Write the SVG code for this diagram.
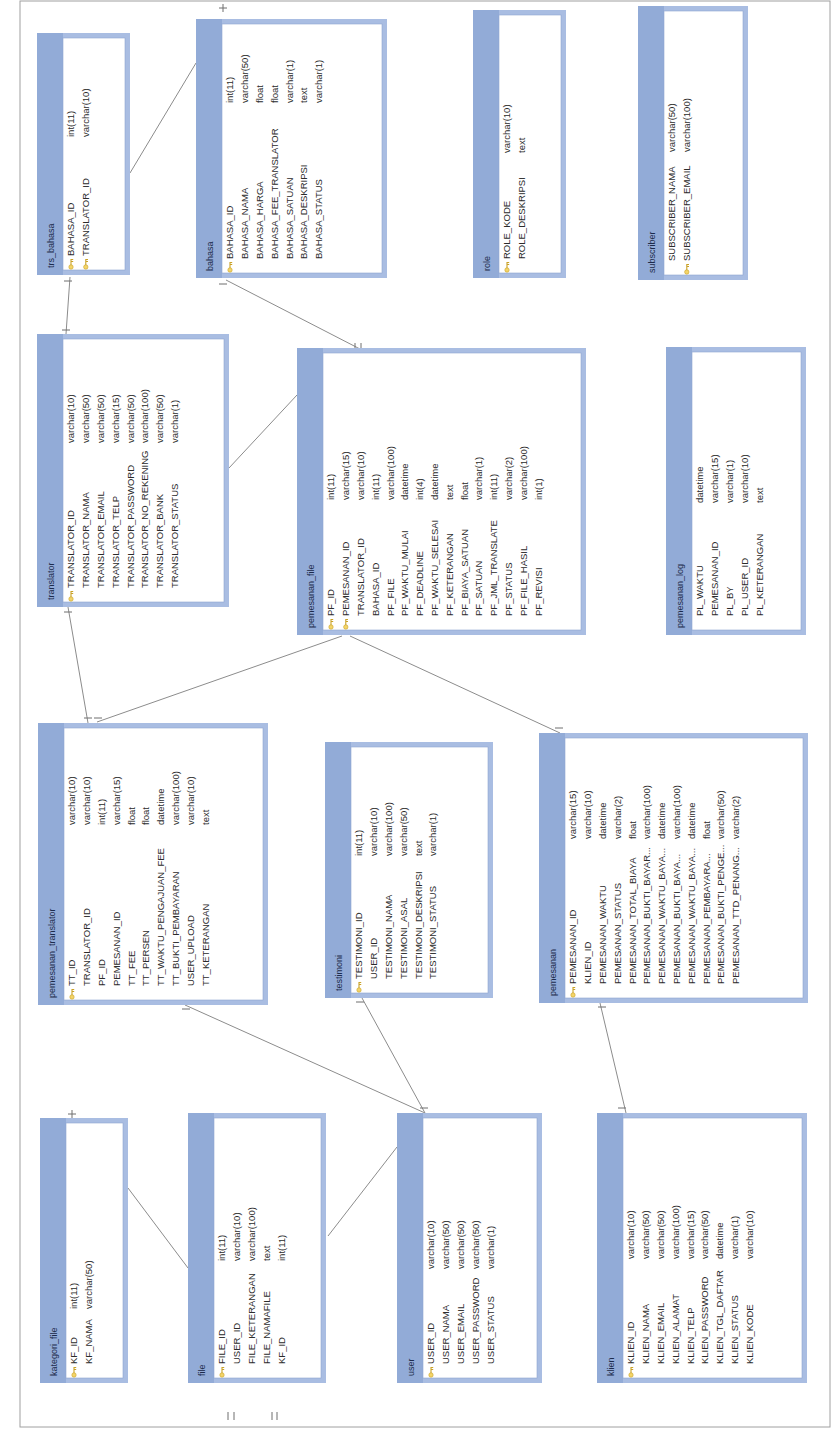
<svg xmlns="http://www.w3.org/2000/svg" xmlns:xlink="http://www.w3.org/1999/xlink" width="832" height="1434" viewBox="0 0 832 1434">
<style>
.fr{fill:#a9bde2}
.hd{fill:#92abd7}
.bd{fill:#ffffff;stroke:#8ea5d0;stroke-width:0.6}
.tt{font-family:"Liberation Sans",Arial,sans-serif;font-size:9px;fill:#1d2b4c}
.f{font-family:"Liberation Sans",Arial,sans-serif;font-size:9.5px;fill:#2b2b2b}
.c{stroke:#8c8c8c;stroke-width:1;fill:none}
.tk{stroke:#6f6f6f;stroke-width:1;fill:none}
</style>
<defs>
<g id="k"><circle cx="2" cy="0" r="2.2" fill="#f3d46a" stroke="#c9a227" stroke-width="0.6"/><path d="M4 0H10M7.5 0V2.2M9.5 0V2.2" stroke="#c9a227" stroke-width="1.1" fill="none"/></g>
</defs>
<rect x="20" y="1" width="810" height="1426" fill="none" stroke="#a0a0a0" stroke-width="1"/>

<g id="connectors">
<line class="c" x1="130" y1="173" x2="196" y2="63"/>
<line class="c" x1="70" y1="277" x2="66" y2="334"/>
<line class="c" x1="226" y1="280" x2="360" y2="349"/>
<line class="c" x1="229" y1="468" x2="297" y2="395"/>
<line class="c" x1="68" y1="607" x2="88" y2="723"/>
<line class="c" x1="342" y1="636" x2="97" y2="722"/>
<line class="c" x1="350" y1="636" x2="560" y2="733"/>
<line class="c" x1="185" y1="1005" x2="425" y2="1113"/>
<line class="c" x1="362" y1="998" x2="425" y2="1113"/>
<line class="c" x1="397" y1="1147" x2="328" y2="1236"/>
<line class="c" x1="128" y1="1188" x2="188" y2="1268"/>
<line class="c" x1="600" y1="1003" x2="626" y2="1113"/>
<path class="tk" d="M219 8h8M223 4v8M219 284h8M64 281h8M62 330h8M64 612h8M84 718h8M94 718h8M355 343v6M361 343v6M68 1114h8M72 1110v8M228 1412v8M234 1412v8M272 1412v8M277 1412v8M420 1108h8M555 728h8M618 1108h8M182 1009h8M356 1002h8M598 1007h8"/>
</g>

<g id="node-trs_bahasa" transform="translate(37 275) rotate(-90)">
<rect class="fr" width="242" height="93"/><rect class="hd" width="242" height="26"/><rect class="bd" x="5" y="26" width="232" height="62"/>
<text class="tt" x="7" y="17">trs_bahasa</text>
<use href="#k" x="6" y="34"/><use href="#k" x="6" y="48.8"/>
<text class="f" x="19" y="37.4">BAHASA_ID</text><text class="f" x="138" y="37.4">int(11)</text>
<text class="f" x="19" y="52.2">TRANSLATOR_ID</text><text class="f" x="138" y="52.2">varchar(10)</text>
</g>

<g id="node-bahasa" transform="translate(196 278) rotate(-90)">
<rect class="fr" width="259" height="191"/><rect class="hd" width="259" height="26"/><rect class="bd" x="5" y="26" width="249" height="160"/>
<text class="tt" x="7" y="17">bahasa</text>
<use href="#k" x="6" y="34"/>
<text class="f" x="19" y="37.4">BAHASA_ID</text><text class="f" x="175" y="37.4">int(11)</text>
<text class="f" x="19" y="52.2">BAHASA_NAMA</text><text class="f" x="175" y="52.2">varchar(50)</text>
<text class="f" x="19" y="67">BAHASA_HARGA</text><text class="f" x="175" y="67">float</text>
<text class="f" x="19" y="81.8">BAHASA_FEE_TRANSLATOR</text><text class="f" x="175" y="81.8">float</text>
<text class="f" x="19" y="96.6">BAHASA_SATUAN</text><text class="f" x="175" y="96.6">varchar(1)</text>
<text class="f" x="19" y="111.4">BAHASA_DESKRIPSI</text><text class="f" x="175" y="111.4">text</text>
<text class="f" x="19" y="126.2">BAHASA_STATUS</text><text class="f" x="175" y="126.2">varchar(1)</text>
</g>

<g id="node-role" transform="translate(473 278) rotate(-90)">
<rect class="fr" width="268" height="93"/><rect class="hd" width="268" height="26"/><rect class="bd" x="5" y="26" width="258" height="62"/>
<text class="tt" x="7" y="17">role</text>
<use href="#k" x="6" y="34"/>
<text class="f" x="19" y="37.4">ROLE_KODE</text><text class="f" x="125" y="37.4">varchar(10)</text>
<text class="f" x="19" y="52.2">ROLE_DESKRIPSI</text><text class="f" x="125" y="52.2">text</text>
</g>

<g id="node-subscriber" transform="translate(638 280) rotate(-90)">
<rect class="fr" width="274" height="110"/><rect class="hd" width="274" height="26"/><rect class="bd" x="5" y="26" width="264" height="79"/>
<text class="tt" x="7" y="17">subscriber</text>
<use href="#k" x="6" y="48.8"/>
<text class="f" x="19" y="37.4">SUBSCRIBER_NAMA</text><text class="f" x="128" y="37.4">varchar(50)</text>
<text class="f" x="19" y="52.2">SUBSCRIBER_EMAIL</text><text class="f" x="128" y="52.2">varchar(100)</text>
</g>

<g id="node-translator" transform="translate(37 607) rotate(-90)">
<rect class="fr" width="273" height="192"/><rect class="hd" width="273" height="26"/><rect class="bd" x="5" y="26" width="263" height="161"/>
<text class="tt" x="7" y="17">translator</text>
<use href="#k" x="6" y="34"/>
<text class="f" x="19" y="37.4">TRANSLATOR_ID</text><text class="f" x="164" y="37.4">varchar(10)</text>
<text class="f" x="19" y="52.2">TRANSLATOR_NAMA</text><text class="f" x="164" y="52.2">varchar(50)</text>
<text class="f" x="19" y="67">TRANSLATOR_EMAIL</text><text class="f" x="164" y="67">varchar(50)</text>
<text class="f" x="19" y="81.8">TRANSLATOR_TELP</text><text class="f" x="164" y="81.8">varchar(15)</text>
<text class="f" x="19" y="96.6">TRANSLATOR_PASSWORD</text><text class="f" x="164" y="96.6">varchar(50)</text>
<text class="f" x="19" y="111.4">TRANSLATOR_NO_REKENING</text><text class="f" x="164" y="111.4">varchar(100)</text>
<text class="f" x="19" y="126.2">TRANSLATOR_BANK</text><text class="f" x="164" y="126.2">varchar(50)</text>
<text class="f" x="19" y="141">TRANSLATOR_STATUS</text><text class="f" x="164" y="141">varchar(1)</text>
</g>

<g id="node-pemesanan_file" transform="translate(297 635) rotate(-90)">
<rect class="fr" width="287" height="289"/><rect class="hd" width="287" height="26"/><rect class="bd" x="5" y="26" width="277" height="258"/>
<text class="tt" x="7" y="17">pemesanan_file</text>
<use href="#k" x="6" y="34"/><use href="#k" x="6" y="48.8"/>
<text class="f" x="19" y="37.4">PF_ID</text><text class="f" x="135" y="37.4">int(11)</text>
<text class="f" x="19" y="52.2">PEMESANAN_ID</text><text class="f" x="135" y="52.2">varchar(15)</text>
<text class="f" x="19" y="67">TRANSLATOR_ID</text><text class="f" x="135" y="67">varchar(10)</text>
<text class="f" x="19" y="81.8">BAHASA_ID</text><text class="f" x="135" y="81.8">int(11)</text>
<text class="f" x="19" y="96.6">PF_FILE</text><text class="f" x="135" y="96.6">varchar(100)</text>
<text class="f" x="19" y="111.4">PF_WAKTU_MULAI</text><text class="f" x="135" y="111.4">datetime</text>
<text class="f" x="19" y="126.2">PF_DEADLINE</text><text class="f" x="135" y="126.2">int(4)</text>
<text class="f" x="19" y="141">PF_WAKTU_SELESAI</text><text class="f" x="135" y="141">datetime</text>
<text class="f" x="19" y="155.8">PF_KETERANGAN</text><text class="f" x="135" y="155.8">text</text>
<text class="f" x="19" y="170.6">PF_BIAYA_SATUAN</text><text class="f" x="135" y="170.6">float</text>
<text class="f" x="19" y="185.4">PF_SATUAN</text><text class="f" x="135" y="185.4">varchar(1)</text>
<text class="f" x="19" y="200.2">PF_JML_TRANSLATE</text><text class="f" x="135" y="200.2">int(11)</text>
<text class="f" x="19" y="215">PF_STATUS</text><text class="f" x="135" y="215">varchar(2)</text>
<text class="f" x="19" y="229.8">PF_FILE_HASIL</text><text class="f" x="135" y="229.8">varchar(100)</text>
<text class="f" x="19" y="244.6">PF_REVISI</text><text class="f" x="135" y="244.6">int(1)</text>
</g>

<g id="node-pemesanan_log" transform="translate(666 635) rotate(-90)">
<rect class="fr" width="288" height="140"/><rect class="hd" width="288" height="26"/><rect class="bd" x="5" y="26" width="278" height="109"/>
<text class="tt" x="7" y="17">pemesanan_log</text>
<text class="f" x="19" y="37.4">PL_WAKTU</text><text class="f" x="132" y="37.4">datetime</text>
<text class="f" x="19" y="52.2">PEMESANAN_ID</text><text class="f" x="132" y="52.2">varchar(15)</text>
<text class="f" x="19" y="67">PL_BY</text><text class="f" x="132" y="67">varchar(1)</text>
<text class="f" x="19" y="81.8">PL_USER_ID</text><text class="f" x="132" y="81.8">varchar(10)</text>
<text class="f" x="19" y="96.6">PL_KETERANGAN</text><text class="f" x="132" y="96.6">text</text>
</g>

<g id="node-pemesanan_translator" transform="translate(38 1005) rotate(-90)">
<rect class="fr" width="282" height="230"/><rect class="hd" width="282" height="26"/><rect class="bd" x="5" y="26" width="272" height="199"/>
<text class="tt" x="7" y="17">pemesanan_translator</text>
<use href="#k" x="6" y="34"/>
<text class="f" x="19" y="37.4">TT_ID</text><text class="f" x="180" y="37.4">varchar(10)</text>
<text class="f" x="19" y="52.2">TRANSLATOR_ID</text><text class="f" x="180" y="52.2">varchar(10)</text>
<text class="f" x="19" y="67">PF_ID</text><text class="f" x="180" y="67">int(11)</text>
<text class="f" x="19" y="81.8">PEMESANAN_ID</text><text class="f" x="180" y="81.8">varchar(15)</text>
<text class="f" x="19" y="96.6">TT_FEE</text><text class="f" x="180" y="96.6">float</text>
<text class="f" x="19" y="111.4">TT_PERSEN</text><text class="f" x="180" y="111.4">float</text>
<text class="f" x="19" y="126.2">TT_WAKTU_PENGAJUAN_FEE</text><text class="f" x="180" y="126.2">datetime</text>
<text class="f" x="19" y="141">TT_BUKTI_PEMBAYARAN</text><text class="f" x="180" y="141">varchar(100)</text>
<text class="f" x="19" y="155.8">USER_UPLOAD</text><text class="f" x="180" y="155.8">varchar(10)</text>
<text class="f" x="19" y="170.6">TT_KETERANGAN</text><text class="f" x="180" y="170.6">text</text>
</g>

<g id="node-testimoni" transform="translate(325 998) rotate(-90)">
<rect class="fr" width="256" height="168"/><rect class="hd" width="256" height="26"/><rect class="bd" x="5" y="26" width="246" height="137"/>
<text class="tt" x="7" y="17">testimoni</text>
<use href="#k" x="6" y="34"/>
<text class="f" x="19" y="37.4">TESTIMONI_ID</text><text class="f" x="142" y="37.4">int(11)</text>
<text class="f" x="19" y="52.2">USER_ID</text><text class="f" x="142" y="52.2">varchar(10)</text>
<text class="f" x="19" y="67">TESTIMONI_NAMA</text><text class="f" x="142" y="67">varchar(100)</text>
<text class="f" x="19" y="81.8">TESTIMONI_ASAL</text><text class="f" x="142" y="81.8">varchar(50)</text>
<text class="f" x="19" y="96.6">TESTIMONI_DESKRIPSI</text><text class="f" x="142" y="96.6">text</text>
<text class="f" x="19" y="111.4">TESTIMONI_STATUS</text><text class="f" x="142" y="111.4">varchar(1)</text>
</g>

<g id="node-pemesanan" transform="translate(539 1003) rotate(-90)">
<rect class="fr" width="270" height="269"/><rect class="hd" width="270" height="26"/><rect class="bd" x="5" y="26" width="260" height="238"/>
<text class="tt" x="7" y="17">pemesanan</text>
<use href="#k" x="6" y="34"/>
<text class="f" x="19" y="37.4">PEMESANAN_ID</text><text class="f" x="164" y="37.4">varchar(15)</text>
<text class="f" x="19" y="52.2">KLIEN_ID</text><text class="f" x="164" y="52.2">varchar(10)</text>
<text class="f" x="19" y="67">PEMESANAN_WAKTU</text><text class="f" x="164" y="67">datetime</text>
<text class="f" x="19" y="81.8">PEMESANAN_STATUS</text><text class="f" x="164" y="81.8">varchar(2)</text>
<text class="f" x="19" y="96.6">PEMESANAN_TOTAL_BIAYA</text><text class="f" x="164" y="96.6">float</text>
<text class="f" x="19" y="111.4">PEMESANAN_BUKTI_BAYAR...</text><text class="f" x="164" y="111.4">varchar(100)</text>
<text class="f" x="19" y="126.2">PEMESANAN_WAKTU_BAYA...</text><text class="f" x="164" y="126.2">datetime</text>
<text class="f" x="19" y="141">PEMESANAN_BUKTI_BAYA...</text><text class="f" x="164" y="141">varchar(100)</text>
<text class="f" x="19" y="155.8">PEMESANAN_WAKTU_BAYA...</text><text class="f" x="164" y="155.8">datetime</text>
<text class="f" x="19" y="170.6">PEMESANAN_PEMBAYARA...</text><text class="f" x="164" y="170.6">float</text>
<text class="f" x="19" y="185.4">PEMESANAN_BUKTI_PENGE...</text><text class="f" x="164" y="185.4">varchar(50)</text>
<text class="f" x="19" y="200.2">PEMESANAN_TTD_PENANG...</text><text class="f" x="164" y="200.2">varchar(2)</text>
</g>

<g id="node-kategori_file" transform="translate(40 1383) rotate(-90)">
<rect class="fr" width="265" height="88"/><rect class="hd" width="265" height="26"/><rect class="bd" x="5" y="26" width="255" height="57"/>
<text class="tt" x="7" y="17">kategori_file</text>
<use href="#k" x="6" y="34"/>
<text class="f" x="19" y="37.4">KF_ID</text><text class="f" x="74" y="37.4">int(11)</text>
<text class="f" x="19" y="52.2">KF_NAMA</text><text class="f" x="74" y="52.2">varchar(50)</text>
</g>

<g id="node-file" transform="translate(188 1383) rotate(-90)">
<rect class="fr" width="270" height="138"/><rect class="hd" width="270" height="26"/><rect class="bd" x="5" y="26" width="260" height="107"/>
<text class="tt" x="7" y="17">file</text>
<use href="#k" x="6" y="34"/>
<text class="f" x="19" y="37.4">FILE_ID</text><text class="f" x="122" y="37.4">int(11)</text>
<text class="f" x="19" y="52.2">USER_ID</text><text class="f" x="122" y="52.2">varchar(10)</text>
<text class="f" x="19" y="67">FILE_KETERANGAN</text><text class="f" x="122" y="67">varchar(100)</text>
<text class="f" x="19" y="81.8">FILE_NAMAFILE</text><text class="f" x="122" y="81.8">text</text>
<text class="f" x="19" y="96.6">KF_ID</text><text class="f" x="122" y="96.6">int(11)</text>
</g>

<g id="node-user" transform="translate(397 1383) rotate(-90)">
<rect class="fr" width="270" height="145"/><rect class="hd" width="270" height="26"/><rect class="bd" x="5" y="26" width="260" height="114"/>
<text class="tt" x="7" y="17">user</text>
<use href="#k" x="6" y="34"/>
<text class="f" x="19" y="37.4">USER_ID</text><text class="f" x="114" y="37.4">varchar(10)</text>
<text class="f" x="19" y="52.2">USER_NAMA</text><text class="f" x="114" y="52.2">varchar(50)</text>
<text class="f" x="19" y="67">USER_EMAIL</text><text class="f" x="114" y="67">varchar(50)</text>
<text class="f" x="19" y="81.8">USER_PASSWORD</text><text class="f" x="114" y="81.8">varchar(50)</text>
<text class="f" x="19" y="96.6">USER_STATUS</text><text class="f" x="114" y="96.6">varchar(1)</text>
</g>

<g id="node-klien" transform="translate(597 1383) rotate(-90)">
<rect class="fr" width="270" height="210"/><rect class="hd" width="270" height="26"/><rect class="bd" x="5" y="26" width="260" height="179"/>
<text class="tt" x="7" y="17">klien</text>
<use href="#k" x="6" y="34"/>
<text class="f" x="19" y="37.4">KLIEN_ID</text><text class="f" x="124" y="37.4">varchar(10)</text>
<text class="f" x="19" y="52.2">KLIEN_NAMA</text><text class="f" x="124" y="52.2">varchar(50)</text>
<text class="f" x="19" y="67">KLIEN_EMAIL</text><text class="f" x="124" y="67">varchar(50)</text>
<text class="f" x="19" y="81.8">KLIEN_ALAMAT</text><text class="f" x="124" y="81.8">varchar(100)</text>
<text class="f" x="19" y="96.6">KLIEN_TELP</text><text class="f" x="124" y="96.6">varchar(15)</text>
<text class="f" x="19" y="111.4">KLIEN_PASSWORD</text><text class="f" x="124" y="111.4">varchar(50)</text>
<text class="f" x="19" y="126.2">KLIEN_TGL_DAFTAR</text><text class="f" x="124" y="126.2">datetime</text>
<text class="f" x="19" y="141">KLIEN_STATUS</text><text class="f" x="124" y="141">varchar(1)</text>
<text class="f" x="19" y="155.8">KLIEN_KODE</text><text class="f" x="124" y="155.8">varchar(10)</text>
</g>
</svg>
